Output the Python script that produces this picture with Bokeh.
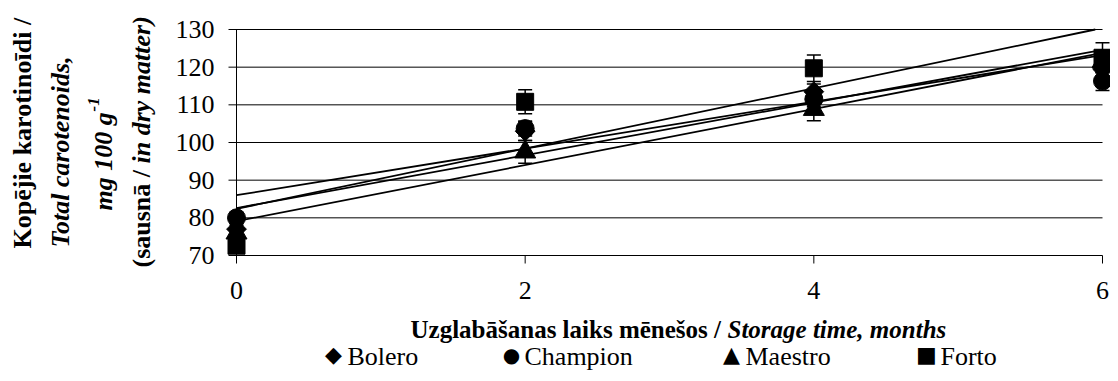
import math
from bokeh.plotting import figure
from bokeh.models import Label, Range1d
from bokeh.core.properties import value
from bokeh.embed import file_html
from bokeh.resources import INLINE

# ---- data ----
months = [0, 2, 4, 6]
series_names = ["Bolero", "Champion", "Maestro", "Forto"]
bolero = [77.0, 103.0, 113.5, 119.5]
champion = [80.0, 103.7, 111.5, 116.3]
maestro = [76.0, 97.5, 108.8, 121.5]
forto = [72.6, 110.8, 119.7, 122.5]
bolero_err = [2.0, 2.5, 2.0, 2.5]
champion_err = [1.5, 2.0, 2.0, 2.5]
maestro_err = [2.0, 3.0, 3.0, 3.0]
forto_err = [1.5, 3.2, 3.5, 4.0]
trend_intercept = [82.6, 86.0, 79.1, 82.4]
trend_slope = [7.0, 6.2, 7.45, 8.0]
y_ticks = [70, 80, 90, 100, 110, 120, 130]
x_ticks = [0, 2, 4, 6]

values = [bolero, champion, maestro, forto]
errors = [bolero_err, champion_err, maestro_err, forto_err]
markers = [("square", 14, math.pi / 4), ("circle", 18, 0), ("triangle", 21, 0), ("square", 17, 0)]

# ---- layout: the frame covers the whole canvas ----
W, H = 1110, 373
PX0, PX6 = 236, 1102      # pixel columns of x = 0 and x = 6
PY130, PY70 = 29, 255     # pixel rows of y = 130 and y = 70
kx = (PX6 - PX0) / (x_ticks[-1] - x_ticks[0])
ky = (PY70 - PY130) / (y_ticks[-1] - y_ticks[0])
x_start = x_ticks[0] - PX0 / kx
x_end = x_ticks[-1] + (W - PX6) / kx
y_end = y_ticks[-1] + PY130 / ky
y_start = y_ticks[0] - (H - PY70) / ky

p = figure(width=W, height=H, output_backend="svg", toolbar_location=None,
           x_range=Range1d(x_start, x_end), y_range=Range1d(y_start, y_end),
           x_axis_location=None, y_axis_location=None, min_border=0)
p.outline_line_color = None
p.background_fill_color = "white"
p.border_fill_color = "white"
p.xgrid.visible = False
p.ygrid.visible = False

FONT = "Liberation Serif"
tick_len_x = 8 / kx
tick_len_y = 8 / ky

# gridlines (extend left past the value axis as tick marks)
n = len(y_ticks)
p.segment(x0=[x_ticks[0] - tick_len_x] * n, y0=y_ticks, x1=[x_ticks[-1]] * n, y1=y_ticks,
          line_color="black", line_width=1)
# value axis line
p.segment(x0=[x_ticks[0]], y0=[y_ticks[0]], x1=[x_ticks[0]], y1=[y_ticks[-1]],
          line_color="black", line_width=1)
# category axis tick marks
p.segment(x0=x_ticks, y0=[y_ticks[0]] * len(x_ticks), x1=x_ticks,
          y1=[y_ticks[0] - tick_len_y] * len(x_ticks), line_color="black", line_width=1)

# tick labels
p.text(x=[x_ticks[0]] * n, y=y_ticks, text=[str(t) for t in y_ticks], x_offset=-22,
       text_align="right", text_baseline="middle", text_font=value(FONT),
       text_font_size="26px", text_color="black")
p.text(x=x_ticks, y=[y_ticks[0]] * len(x_ticks), text=[str(t) for t in x_ticks], y_offset=26,
       text_align="center", text_baseline="top", text_font=value(FONT),
       text_font_size="26px", text_color="black")

# trend lines
for b, m in zip(trend_intercept, trend_slope):
    xs = [months[0], months[-1]]
    ys = [b + m * x for x in xs]
    if ys[-1] > y_ticks[-1]:
        xs[-1] = (y_ticks[-1] - b) / m
        ys[-1] = y_ticks[-1]
    p.line(xs, ys, line_color="black", line_width=1.8)

# error bars
for vals, errs in zip(values, errors):
    lo = [v - e for v, e in zip(vals, errs)]
    hi = [v + e for v, e in zip(vals, errs)]
    p.segment(x0=months, y0=lo, x1=months, y1=hi, line_color="black", line_width=1.5)
    p.scatter(months, lo, marker="dash", size=14, line_color="black", line_width=1.5)
    p.scatter(months, hi, marker="dash", size=14, line_color="black", line_width=1.5)

# markers
for vals, (mk, sz, ang) in zip(values, markers):
    p.scatter(months, vals, marker=mk, size=sz, angle=ang, fill_color="black", line_color="black")


# ---- texts (screen pixels, measured from the canvas top-left) ----
def lab(text, px, py, style="bold", size="26px", angle=0.0, align="left", font=FONT,
        baseline="alphabetic"):
    p.add_layout(Label(x=px, y=H - py, x_units="screen", y_units="screen", text=text,
                       text_font=font, text_font_size=size, text_font_style=style,
                       text_color="black", angle=angle, text_align=align,
                       text_baseline=baseline))


R = math.pi / 2
lab("Kopējie karotinoīdi /", 22, 248, "bold", angle=R)
lab("Total carotenoids,", 60, 247, "bold italic", angle=R)
lab("mg 100 g", 103, 210, "bold italic", angle=R)
lab("-1", 93, 111, "bold italic", size="17px", angle=R)
lab("(sausnā / ", 141, 267, "bold", angle=R)
lab("in dry matter)", 141, 163, "bold italic", angle=R)

lab("Uzglabāšanas laiks mēnešos /", 410, 329, "bold", size="25px")
lab("Storage time, months", 727, 329, "bold italic", size="25px")

leg_marks = ["◆", "●", "▲", "■"]
leg_mark_size = ["22px", "20px", "22px", "22px"]
leg_mark_x = [333, 511, 731, 926]
leg_text_x = [347, 524, 745, 940]
for name, mk, ms, mx, tx in zip(series_names, leg_marks, leg_mark_size, leg_mark_x, leg_text_x):
    lab(mk, mx, 354, "normal", size=ms, align="center", font="DejaVu Sans", baseline="middle")
    lab(name, tx, 356, "normal", size="26px")

open("out.html", "w").write(file_html(p, INLINE))
